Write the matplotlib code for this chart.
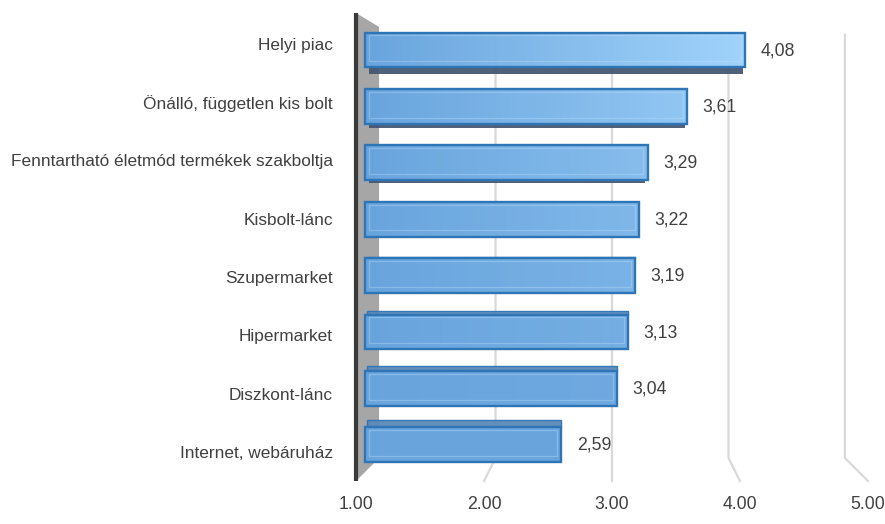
import numpy as np
import matplotlib
matplotlib.use("Agg")
import matplotlib.pyplot as plt
from matplotlib.colors import to_rgb
from matplotlib.patches import Polygon

# ---------------- data ----------------
categories = ["Helyi piac", "Önálló, független kis bolt",
              "Fenntartható életmód termékek szakboltja", "Kisbolt-lánc",
              "Szupermarket", "Hipermarket", "Diszkont-lánc",
              "Internet, webáruház"]
values = [4.08, 3.61, 3.29, 3.22, 3.19, 3.13, 3.04, 2.59]
value_labels = ["4,08", "3,61", "3,29", "3,22", "3,19", "3,13", "3,04", "2,59"]
axis_ticks = [1, 2, 3, 4, 5]
axis_tick_labels = ["1.00", "2.00", "3.00", "4.00", "5.00"]
base = 1.0

plt.rcParams["font.family"] = ["Liberation Sans", "DejaVu Sans"]
TEXT = "#404040"

W, H = 885, 524
fig = plt.figure(figsize=(W / 100, H / 100), dpi=100)
ax = fig.add_axes([340 / W, 39 / H, 540 / W, 480 / H])
ax.set_xlim(0.7976, 5.170)
ax.set_ylim(7.713, -0.798)
for s in ax.spines.values():
    s.set_visible(False)

# pseudo-3D perspective helpers (front / back planes around the bar plane)
def x_back(v):
    return 3 + (v - 3) * 0.943

def x_front(v):
    return 3 + (v - 3) * 1.036

Y_FRONT_TOP, Y_BACK_TOP, Y_BACK_BOT, Y_FRONT_BOT = -0.656, -0.408, 7.234, 7.642
Y_GRID_TOP = -0.27

# side wall
wall = Polygon([(x_front(base), Y_FRONT_TOP), (x_back(base), Y_BACK_TOP),
                (x_back(base), Y_BACK_BOT), (x_front(base), Y_FRONT_BOT)],
               closed=True, facecolor="#a6a6a6", edgecolor="none", zorder=1)
ax.add_patch(wall)
ax.plot([x_front(base)] * 2, [Y_FRONT_TOP, Y_FRONT_BOT], color="#3a3a3a",
        lw=3, solid_capstyle="butt", zorder=2)

# gridlines (back wall + floor)
for v in axis_ticks[1:]:
    ax.plot([x_back(v), x_back(v), x_front(v)],
            [Y_GRID_TOP, Y_BACK_BOT, Y_FRONT_BOT],
            color="#d9d9d9", lw=1.6, zorder=1, solid_joinstyle="miter")

# bars
n = len(categories)
ypos = np.arange(n)
widths = np.array(values) - base
h = 0.62
dark = np.array(to_rgb("#68a4dd"))
light = np.array(to_rgb("#a6d8ff"))
vmax = max(values)

fill = ax.barh(ypos, widths, left=base, height=h, color=dark,
               edgecolor="none", alpha=0.9, zorder=3)

xs = np.linspace(0, 1, 256)
for i, (y, v, patch) in enumerate(zip(ypos, values, fill.patches)):
    # depth face (bottom face for upper bars, top face for lower bars)
    depth = 0.034 * (y - 3.4)
    if depth < 0:
        d = -depth
        ax.barh(y + h / 2 + d / 2, v - base - 0.05, left=base + 0.03, height=d,
                color="#41556e", edgecolor="none", alpha=0.92, zorder=2.5)
    else:
        d = depth
        ax.barh(y - h / 2 - d / 2, v - base - 0.02, left=base + 0.02, height=d,
                color="#5b89b9", edgecolor="#2e75b6", lw=1.0, alpha=0.95,
                zorder=2.5)
    # gradient fill clipped to the bar
    w = 1 - y / (n - 1)
    t = xs * (v - base) / (vmax - base) * w
    rgb = dark[None, :] + t[:, None] * (light - dark)[None, :]
    im = ax.imshow(rgb[None, :, :], extent=[base, v, y + h / 2, y - h / 2],
                   aspect="auto", interpolation="bilinear", alpha=0.9,
                   zorder=3.5)
    im.set_clip_path(patch)

# bevel highlight and outline
ax.barh(ypos - 0.03, widths - 0.07, left=base + 0.035, height=h * 0.74,
        facecolor="none", edgecolor="#c4e2fb", lw=0.9, alpha=0.35, zorder=4)
ax.barh(ypos, widths, left=base, height=h, facecolor="none",
        edgecolor="#2e75b6", lw=1.7, zorder=5)

ax.set_xlim(0.7976, 5.170)
ax.set_ylim(7.713, -0.798)

# value labels
for y, v, lbl in zip(ypos, values, value_labels):
    ax.annotate(lbl, xy=(v, y), xytext=(11, -0.5), textcoords="offset points",
                ha="left", va="center", fontsize=12.7, color=TEXT)

# category labels (front plane)
ytick_pos = 3.25 + (ypos - 3.25) * 1.035
ax.set_yticks(ytick_pos, categories)
ax.tick_params(axis="y", length=0, pad=5, labelsize=12.4, labelcolor=TEXT)

# x tick labels on the front edge of the floor
ax.set_xticks([x_front(v) for v in axis_ticks], axis_tick_labels)
ax.tick_params(axis="x", length=0, pad=8, labelsize=12.7, labelcolor=TEXT)

fig.savefig("out.png", dpi=100)
